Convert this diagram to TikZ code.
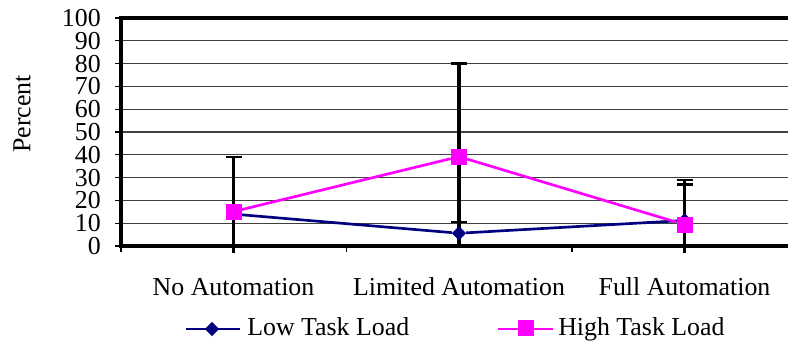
\documentclass[tikz,border=0pt]{standalone}
\usepackage{fontspec}
\setmainfont{Liberation Serif}
\usetikzlibrary{shapes.geometric}
\definecolor{lowblue}{RGB}{0,0,128}
\definecolor{highpink}{RGB}{255,0,255}
\begin{document}
\begin{tikzpicture}
    [x=0.75pt,y=-0.75pt,
     lbl/.style={font=\fontsize{19.4}{23}\selectfont,inner sep=0pt},
     gridline/.style={draw=black!75,line width=0.9pt},
     axisline/.style={line width=2.5pt},
     tickline/.style={line width=0.9pt},
     errbar/.style={line width=2.4pt},
     errcap/.style={line width=1.8pt},
     lowmark/.style={shape=diamond,fill=lowblue,inner sep=0pt,minimum size=11pt},
     highmark/.style={shape=rectangle,fill=highpink,inner sep=0pt,minimum size=12pt},
     lowline/.style={draw=lowblue,line width=2pt},
     highline/.style={draw=highpink,line width=2pt}]
  \clip (0,0) rectangle (788,344);
  % grid and frame
  \foreach \v in {10,20,...,90}
    \draw [gridline] (121,{246-2.28*\v}) -- (800,{246-2.28*\v});
  \draw [axisline] (800,18) -- (121,18) -- (121,246) -- (800,246);
  \foreach \v in {0,10,...,100} {
    \draw [tickline] (115,{246-2.28*\v}) -- (121,{246-2.28*\v});
    \node [lbl,anchor=east] (y\v) at (101,{246-2.28*\v}) {\v};
  }
  \foreach \x in {121,346.5,572,797.5}
    \draw [tickline] (\x,246) -- (\x,252);
  \node [lbl,rotate=90] (ylabel) at (22,114) {Percent};
  % category labels
  \node [lbl,anchor=base] (cat1) at (233.5,295) {No Automation};
  \node [lbl,anchor=base] (cat2) at (459,295) {Limited Automation};
  \node [lbl,anchor=base] (cat3) at (684.5,295) {Full Automation};
  % error bars
  \coordinate (na-top) at (233.5,{246-2.28*39});
  \coordinate (na-bot) at (233.5,253);
  \coordinate (la-top) at (459,{246-2.28*80});
  \coordinate (la-mid) at (459,{246-2.28*10.5});
  \coordinate (la-bot) at (459,246);
  \coordinate (fa-top) at (684.5,{246-2.28*29});
  \coordinate (fa-mid) at (684.5,{246-2.28*26.9});
  \coordinate (fa-bot) at (684.5,253);
  \draw [errbar] (na-bot) -- (na-top);
  \draw [errbar] (la-bot) -- (la-top);
  \draw [errbar] (fa-bot) -- (fa-top);
  \foreach \c in {na-top,la-top,la-mid,la-bot,fa-top,fa-mid}
    \draw [errcap] (\c) ++(-8,0) -- ++(16,0);
  % low task load
  \node [lowmark] (low-na) at (233.5,{246-2.28*14}) {};
  \node [lowmark] (low-la) at (459,{246-2.28*5.6}) {}
    edge [lowline] (low-na);
  \node [lowmark] (low-fa) at (684.5,{246-2.28*11.2}) {}
    edge [lowline] (low-la);
  % high task load
  \node [highmark] (high-na) at (233.5,{246-2.28*15.1}) {};
  \node [highmark] (high-la) at (459,{246-2.28*39.2}) {}
    edge [highline] (high-na);
  \node [highmark] (high-fa) at (684.5,{246-2.28*9.4}) {}
    edge [highline] (high-la);
  % legend
  \coordinate (lg-low-l) at (186,329);
  \coordinate (lg-low-r) at (240,329);
  \draw [lowline] (lg-low-l) -- (lg-low-r);
  \node [lowmark] (lg-low) at (212,329) {};
  \node [lbl,anchor=base west] (lg-low-txt) at (247,335) {Low Task Load};
  \coordinate (lg-high-l) at (498,329);
  \coordinate (lg-high-r) at (553,329);
  \draw [highline] (lg-high-l) -- (lg-high-r);
  \node [highmark] (lg-high) at (526,328) {};
  \node [lbl,anchor=base west] (lg-high-txt) at (558,335) {High Task Load};
\end{tikzpicture}
\end{document}
